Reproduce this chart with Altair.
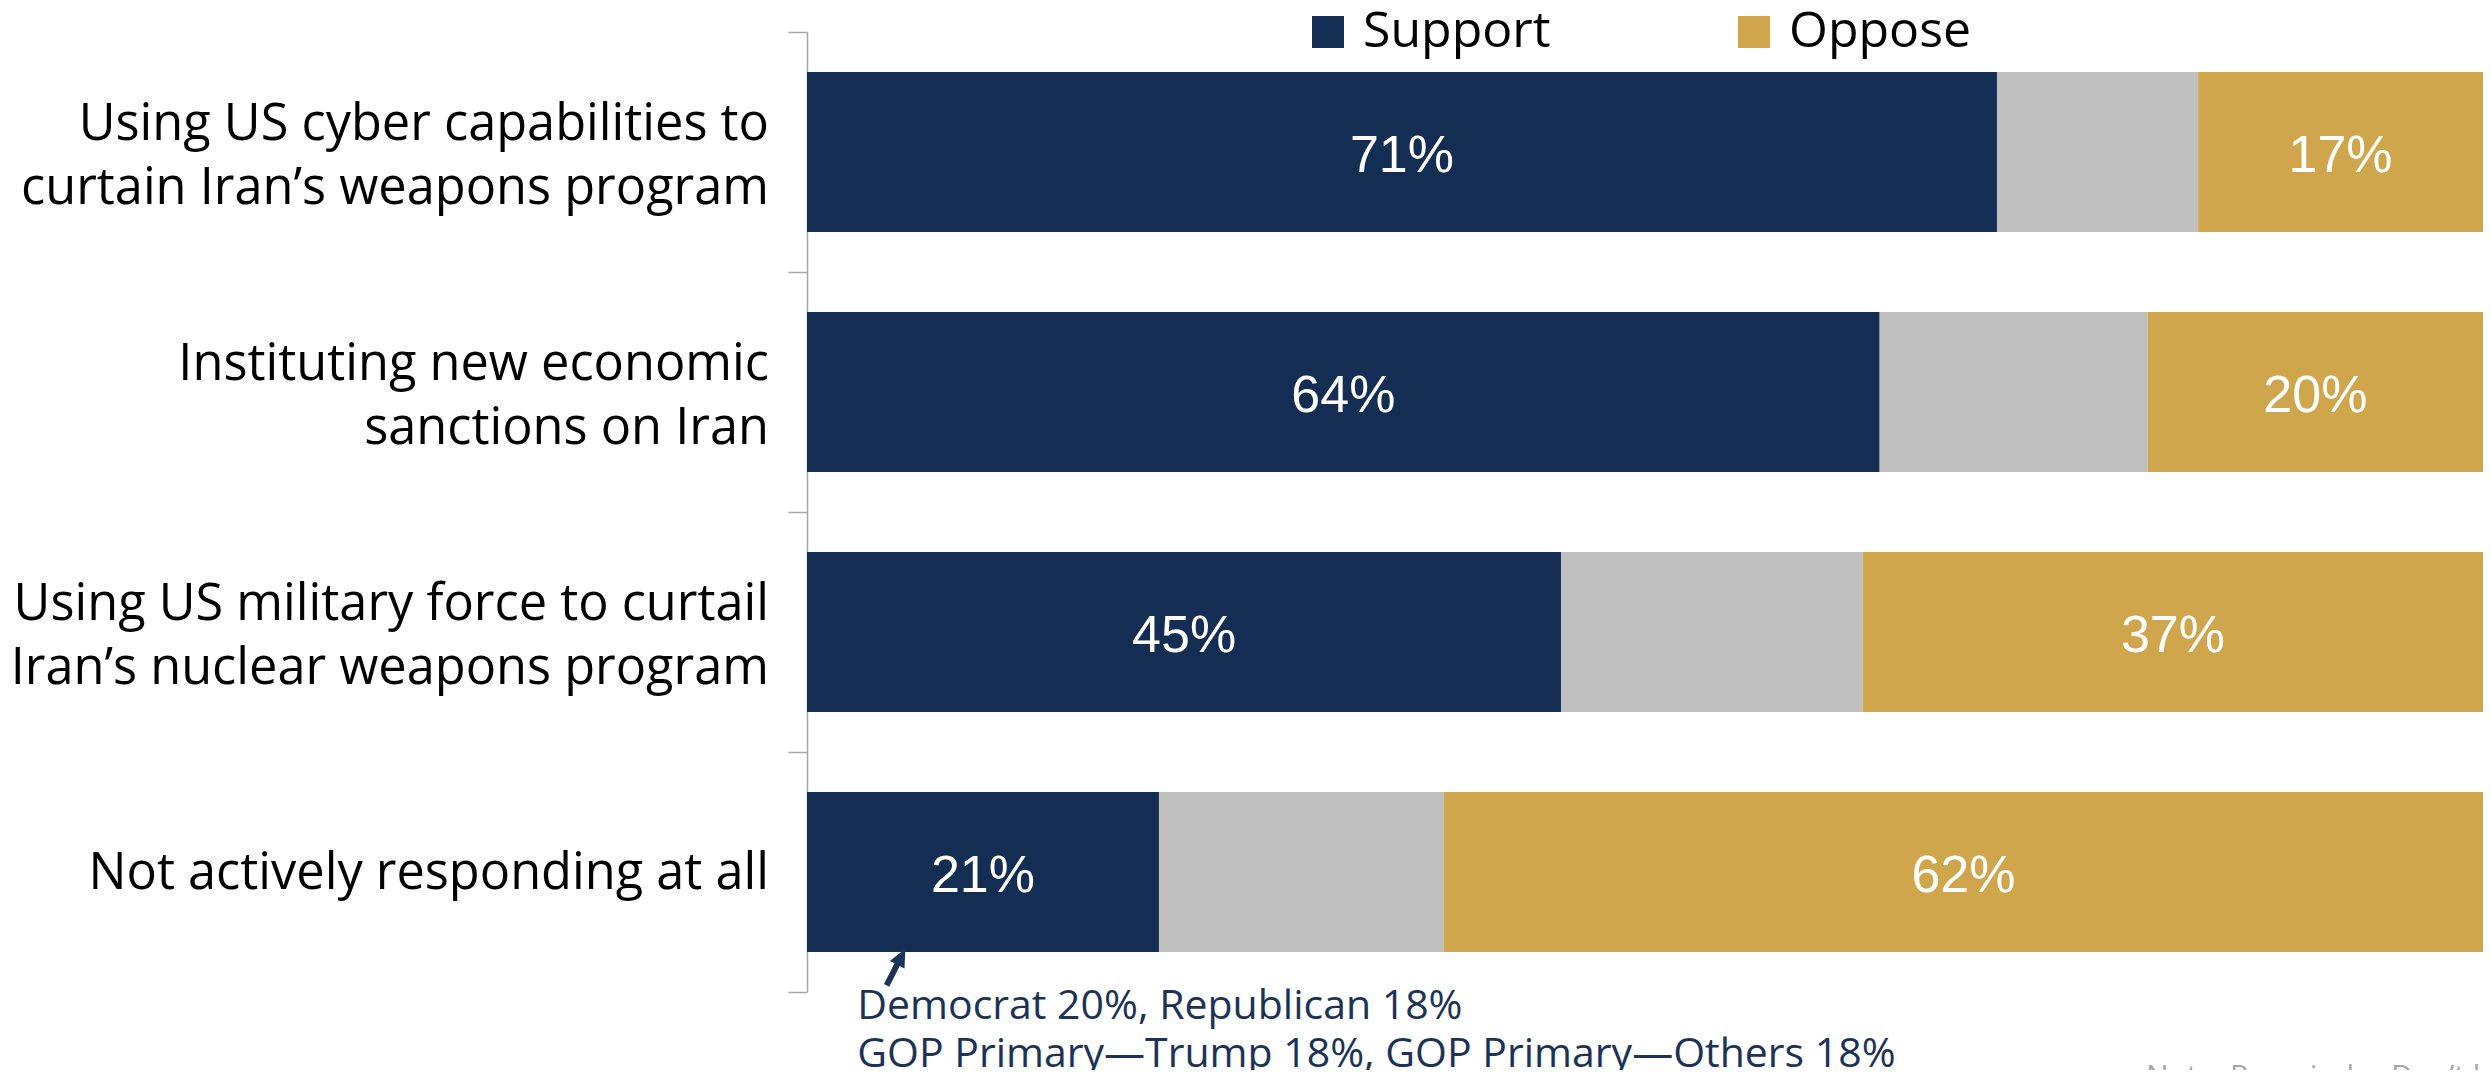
import altair as alt
import pandas as pd

categories = [
    "Using US cyber capabilities to|curtain Iran’s weapons program",
    "Instituting new economic|sanctions on Iran",
    "Using US military force to curtail|Iran’s nuclear weapons program",
    "Not actively responding at all",
]
support = [71, 64, 45, 21]
dont_know = [12, 16, 18, 17]
oppose = [17, 20, 37, 62]
responses = ["Support", "Don't know", "Oppose"]
colors = ["#142D52", "#BFBFBF", "#CFA64B"]

annotation_lines = ["Democrat 20%, Republican 18%",
                    "GOP Primary—Trump 18%, GOP Primary—Others 18%"]
note_text = "Note: Remainder Don’t know"

rows = []
for i, c in enumerate(categories):
    for j, (r, v) in enumerate(zip(responses, [support[i], dont_know[i], oppose[i]])):
        rows.append({"category": c, "response": r, "value": v, "order": j,
                     "label": f"{v}%" if r != "Don't know" else ""})
df = pd.DataFrame(rows)

NAVY = "#1B3358"
FONT = "Open Sans"

y_enc = alt.Y(
    "category:N", sort=categories, title=None,
    scale=alt.Scale(paddingInner=0, paddingOuter=0),
    axis=alt.Axis(
        labels=False,
        tickBand="extent", tickSize=19, tickColor="#A6A6A6", tickWidth=1.5,
        domainColor="#A6A6A6", domainWidth=1.5, grid=False,
    ),
)
y_plain = alt.Y("category:N", sort=categories, title=None)

base = alt.Chart(df).transform_stack(
    stack="value", groupby=["category"], as_=["x0", "x1"],
    sort=[alt.SortField("order")],
).transform_calculate(mid="(datum.x0 + datum.x1) / 2")

bars = base.mark_bar(size=160).encode(
    x=alt.X("x0:Q", scale=alt.Scale(domain=[0, 100], nice=False, zero=True), axis=None),
    x2="x1:Q",
    y=y_enc,
    color=alt.Color(
        "response:N", scale=alt.Scale(domain=responses, range=colors),
        legend=alt.Legend(
            values=["Support", "Oppose"], title=None, orient="none",
            direction="horizontal", legendX=496, legendY=-25,
            symbolType="square", symbolSize=1024, symbolStrokeWidth=0,
            labelFont=FONT, labelFontSize=50, labelColor="#000000",
            labelOffset=10, columnPadding=178, labelLimit=0,
        ),
    ),
)

labels = base.transform_filter("datum.label != ''").mark_text(
    font="Liberation Sans", fontSize=52, color="white", baseline="middle",
    align="center", dy=4
).encode(x="mid:Q", y=y_plain, text="label:N")

# category labels (left of the axis)
cat_df = pd.DataFrame({"category": categories,
                       "lines": [c.count("|") + 1 for c in categories]})
cat_common = dict(font=FONT, fontSize=50.5, color="#000000", align="right",
                  baseline="middle", lineBreak="|", lineHeight=64, dx=-38)
cat_two = alt.Chart(cat_df).transform_filter("datum.lines == 2").mark_text(
    dy=-27, **cat_common
).encode(x=alt.datum(0), y=y_plain, text="category:N")
cat_one = alt.Chart(cat_df).transform_filter("datum.lines == 1").mark_text(
    dy=2, **cat_common
).encode(x=alt.datum(0), y=y_plain, text="category:N")

ann_df = pd.DataFrame({
    "text": annotation_lines,
    "x": [3.0, 3.0],
    "category": [categories[3], categories[3]],
})
ann1 = alt.Chart(ann_df.iloc[[0]]).mark_text(
    font=FONT, fontSize=41, color=NAVY, align="left", baseline="middle", yOffset=135
).encode(x="x:Q", y=y_plain, text="text:N")
ann2 = alt.Chart(ann_df.iloc[[1]]).mark_text(
    font=FONT, fontSize=41, color=NAVY, align="left", baseline="middle", yOffset=183
).encode(x="x:Q", y=y_plain, text="text:N")

arrow_df = pd.DataFrame({"x": [5.31], "category": [categories[3]]})
arrow = alt.Chart(arrow_df).mark_point(
    shape="arrow", size=1700, angle=27, filled=True, opacity=1, color=NAVY,
    strokeWidth=0, yOffset=95
).encode(x="x:Q", y=y_plain)

note_df = pd.DataFrame({"x": [79.9], "category": [categories[3]], "text": [note_text]})
note = alt.Chart(note_df).mark_text(
    font=FONT, fontSize=30, color="#A6A6A6", align="left", baseline="top", yOffset=190
).encode(x="x:Q", y=y_plain, text="text:N")

chart = alt.layer(bars, labels, cat_two, cat_one, ann1, ann2, arrow, note).properties(
    width=1676, height=960,
    autosize=alt.AutoSizeParams(type="none"),
    padding={"left": 799, "top": 24, "right": 0, "bottom": 78},
).configure(background="white").configure_view(stroke=None)

chart.save("out.html", embed_options={"renderer": "svg", "actions": False})
